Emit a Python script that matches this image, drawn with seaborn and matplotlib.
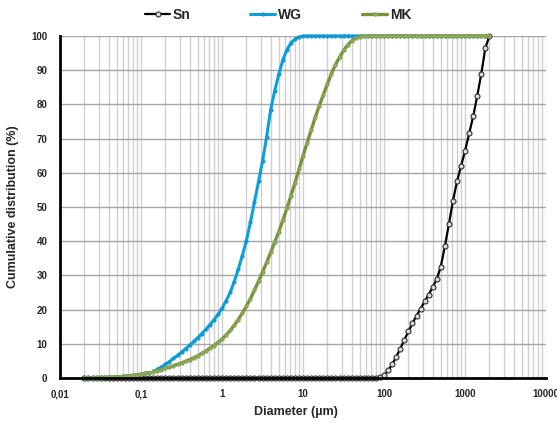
import numpy as np
import pandas as pd
import matplotlib
matplotlib.use("Agg")
import matplotlib.pyplot as plt
from matplotlib.lines import Line2D
from matplotlib.ticker import FixedLocator, FixedFormatter, LogLocator, NullFormatter, MultipleLocator
import seaborn as sns

# Particle size classes (µm)
diameter = [
    0.020, 0.0224, 0.0252, 0.0283, 0.0317, 0.0356, 0.0399, 0.0448, 0.0502, 0.0564,
    0.0632, 0.0710, 0.0796, 0.0893, 0.1002, 0.1125, 0.1262, 0.1416, 0.1589, 0.1783,
    0.2000, 0.2244, 0.2518, 0.2825, 0.3170, 0.3557, 0.3991, 0.4477, 0.5024, 0.5637,
    0.6325, 0.7096, 0.7962, 0.8934, 1.0024, 1.125, 1.262, 1.416, 1.589, 1.783,
    2.000, 2.244, 2.518, 2.825, 3.170, 3.557, 3.991, 4.477, 5.024, 5.637,
    6.325, 7.096, 7.962, 8.934, 10.024, 11.247, 12.619, 14.159, 15.887, 17.825,
    20.000, 22.440, 25.179, 28.251, 31.698, 35.566, 39.905, 44.774, 50.238, 56.368,
    63.246, 70.963, 79.621, 89.337, 100.237, 112.468, 126.191, 141.589, 158.866, 178.250,
    200.000, 224.404, 251.785, 282.508, 316.979, 355.656, 399.052, 447.744, 502.377, 563.677,
    632.456, 709.627, 796.214, 893.367, 1002.374, 1124.683, 1261.915, 1415.892, 1588.656, 1782.502,
    2000.000,
]

# Cumulative passing (%)
sn = [
    0, 0, 0, 0, 0, 0, 0, 0, 0, 0,
    0, 0, 0, 0, 0, 0, 0, 0, 0, 0,
    0, 0, 0, 0, 0, 0, 0, 0, 0, 0,
    0, 0, 0, 0, 0, 0, 0, 0, 0, 0,
    0, 0, 0, 0, 0, 0, 0, 0, 0, 0,
    0, 0, 0, 0, 0, 0, 0, 0, 0, 0,
    0, 0, 0, 0, 0, 0, 0, 0, 0, 0,
    0, 0, 0.05, 0.2, 0.8, 2.2, 4.0, 6.2, 8.6, 11.2,
    13.6, 16.0, 18.2, 20.2, 22.4, 24.4, 26.6, 28.9, 32.6, 38.5,
    45.0, 51.8, 57.5, 62.0, 66.5, 71.5, 76.5, 82.5, 89.0, 96.5,
    100.0,
]

wg = [
    0.0, 0.02, 0.05, 0.08, 0.12, 0.16, 0.2, 0.26, 0.33, 0.42,
    0.52, 0.64, 0.78, 0.95, 1.15, 1.38, 1.6, 1.9, 2.5, 3.2,
    4.0, 4.8, 5.7, 6.6, 7.6, 8.6, 9.6, 10.7, 11.8, 13.0,
    14.2, 15.6, 17.0, 18.6, 20.4, 22.6, 25.0, 28.2, 31.8, 35.8,
    40.2, 45.5, 51.5, 57.5, 63.5, 70.5, 78.5, 84.0, 88.8, 93.0,
    96.0, 98.0, 99.1, 99.7, 99.95, 100, 100, 100, 100, 100,
    100, 100, 100, 100, 100, 100, 100, 100, 100, 100,
    100, 100, 100, 100, 100, 100, 100, 100, 100, 100,
    100, 100, 100, 100, 100, 100, 100, 100, 100, 100,
    100, 100, 100, 100, 100, 100, 100, 100, 100, 100,
    100,
]

mk = [
    0.0, 0.02, 0.05, 0.08, 0.12, 0.16, 0.21, 0.27, 0.34, 0.42,
    0.52, 0.64, 0.78, 0.94, 1.12, 1.32, 1.5, 1.8, 2.1, 2.4,
    2.8, 3.2, 3.6, 4.0, 4.4, 4.9, 5.4, 5.9, 6.5, 7.2,
    7.9, 8.7, 9.5, 10.4, 11.4, 12.6, 13.9, 15.4, 17.1, 19.0,
    21.0, 23.2, 25.7, 28.3, 31.0, 33.8, 36.7, 39.7, 42.8, 46.1,
    49.6, 53.3, 57.1, 61.0, 65.0, 68.8, 72.5, 76.2, 79.6, 82.8,
    86.0, 89.0, 91.6, 93.8, 95.8, 97.4, 98.6, 99.4, 99.8, 100,
    100, 100, 100, 100, 100, 100, 100, 100, 100, 100,
    100, 100, 100, 100, 100, 100, 100, 100, 100, 100,
    100, 100, 100, 100, 100, 100, 100, 100, 100, 100,
    100,
]

series_names = ["Sn", "WG", "MK"]
series_values = [sn, wg, mk]
series_colors = ["#000000", "#0AA0DC", "#77933C"]

x_tick_values = [0.01, 0.1, 1, 10, 100, 1000, 10000]
x_tick_labels = ["0,01", "0,1", "1", "10", "100", "1000", "10000"]

# the fine-particle (lower-lens) measurement range ends after this class
split_index = 16

sns.set_theme(style="white")
plt.rcParams["font.family"] = ["Liberation Sans", "DejaVu Sans"]
plt.rcParams["font.weight"] = "bold"
label_family = ["Liberation Sans Narrow", "Liberation Sans", "DejaVu Sans"]

frames = []
for name, vals in zip(series_names, series_values):
    seg = [0 if i <= split_index else 1 for i in range(len(diameter))]
    if name == "Sn":
        seg = [0] * len(diameter)
    frames.append(pd.DataFrame({"d": diameter, "v": vals, "seg": seg, "name": name}))
df = pd.concat(frames, ignore_index=True)

fig = plt.figure(figsize=(5.57, 4.26), dpi=100)
ax = fig.add_axes([0.1077, 0.1127, 0.8726, 0.8028])

styles = {
    "Sn": dict(marker="o", markersize=3.6, markerfacecolor="#d9d9d9",
               markeredgecolor="#303030", markeredgewidth=0.8, linewidth=1.6),
    "WG": dict(marker="o", markersize=2.6, markerfacecolor="#1696D2",
               markeredgecolor="#1696D2", markeredgewidth=0.3, linewidth=2.2),
    "MK": dict(marker="o", markersize=2.8, markerfacecolor="#8DA65A",
               markeredgecolor="#8DA65A", markeredgewidth=0.3, linewidth=2.4),
}

for name, color in zip(series_names, series_colors):
    sub = df[df["name"] == name]
    sns.lineplot(data=sub, x="d", y="v", units="seg", estimator=None,
                 color=color, ax=ax, clip_on=False, zorder=3, **styles[name])

ax.set_xscale("log")
ax.set_xlim(0.01, 10000)
ax.set_ylim(0, 100)

ax.xaxis.set_major_locator(FixedLocator(x_tick_values))
ax.xaxis.set_major_formatter(FixedFormatter(x_tick_labels))
ax.xaxis.set_minor_locator(LogLocator(base=10, subs=np.arange(2, 10), numticks=20))
ax.xaxis.set_minor_formatter(NullFormatter())
ax.yaxis.set_major_locator(MultipleLocator(10))
ax.yaxis.set_minor_locator(MultipleLocator(2))

ax.grid(which="major", axis="y", color="#a6a6a6", linewidth=1.0)
ax.grid(which="both", axis="x", color="#d0d0d0", linewidth=1.0)
ax.set_axisbelow(True)

for s in ["top", "right"]:
    ax.spines[s].set_visible(False)
for s in ["left", "bottom"]:
    ax.spines[s].set_color("black")
    ax.spines[s].set_linewidth(2.0)
    ax.spines[s].set_zorder(4)

ax.tick_params(axis="both", which="major", direction="in", length=4, width=1.4,
               color="black", labelsize=7)
ax.tick_params(axis="both", which="minor", direction="in", length=3, width=1.2,
               color="black")
ax.tick_params(axis="x", which="major", pad=8)
ax.tick_params(axis="y", which="major", pad=9)
for lab in ax.get_xticklabels() + ax.get_yticklabels():
    lab.set_fontweight("bold")

ax.set_xlabel("Diameter (µm)", fontsize=9, fontweight="bold", family=label_family)
ax.xaxis.set_label_coords((296 - 60) / 486, -0.083)
ax.set_ylabel("Cumulative distribution (%)", fontsize=9, fontweight="bold",
              family=label_family)
ax.yaxis.set_label_coords((19 - 60) / 486, 0.5)

# one legend entry per series, laid out in a row above the plot
legend_x = [145, 250, 362]
for name, color, lx in zip(series_names, series_colors, legend_x):
    h = Line2D([0], [0], color=color, **styles[name])
    fig.legend([h], [name], loc="center left", bbox_to_anchor=(lx / 557, 1 - 15 / 426),
               frameon=False, prop={"weight": "bold", "size": 10}, handlelength=1.8,
               handletextpad=0.2, borderpad=0, borderaxespad=0)

fig.savefig("out.png", dpi=100)
